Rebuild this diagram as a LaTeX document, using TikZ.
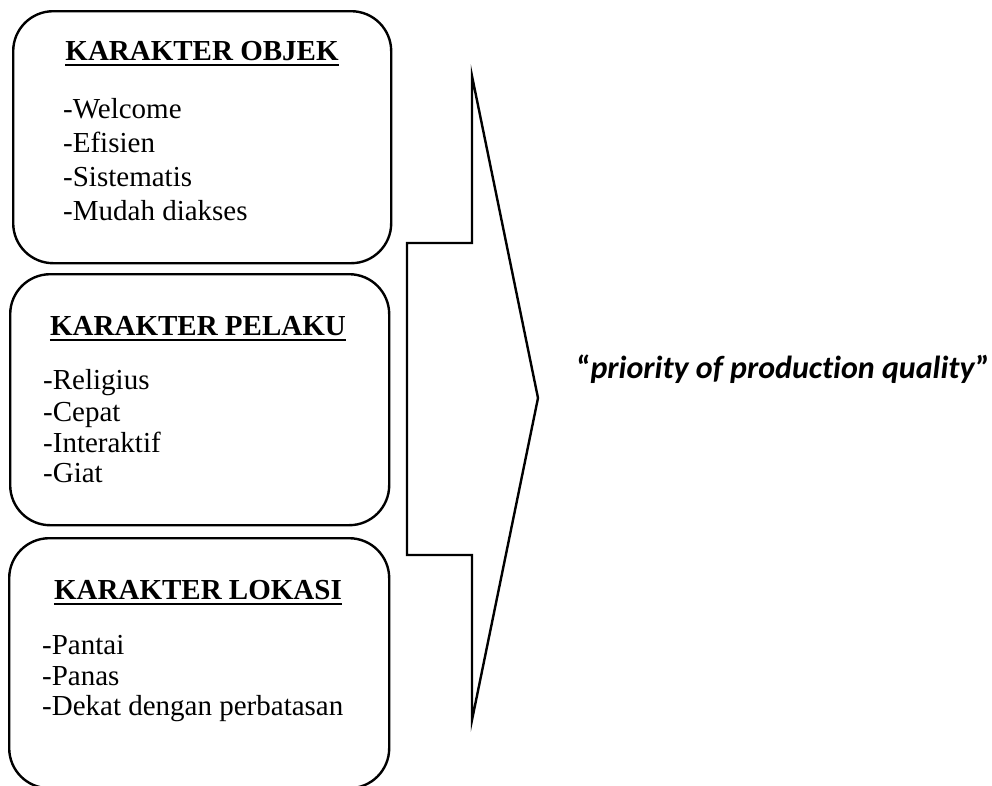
\documentclass[tikz,border=0pt]{standalone}
\usepackage{fontspec}
\setmainfont{Liberation Serif}[BoldFont={Liberation Serif Bold},ItalicFont={Liberation Serif Italic}]
\newfontfamily\calib{Carlito}[Ligatures=NoCommon,BoldItalicFont={Carlito Bold Italic},BoldFont={Carlito Bold}]
\begin{document}
\begin{tikzpicture}[x=1pt,y=-1pt,
  cbox/.style={draw,line width=2.4pt,rounded corners=40pt,anchor=north west,inner sep=0pt},
  head/.style={anchor=base,inner sep=0pt,font=\fontsize{29}{34}\selectfont\bfseries},
  item/.style={anchor=base west,inner sep=0pt,font=\fontsize{29}{34}\selectfont},
  uline/.style={line width=2pt}]
\useasboundingbox (0,0) rectangle (992,785);
% boxes
\node[cbox,minimum width=378pt,minimum height=252pt] (b1) at (12,10) {};
\node[cbox,minimum width=379pt,minimum height=251pt] (b2) at (9,273) {};
\node[cbox,minimum width=380pt,minimum height=250pt] (b3) at (8,537) {};
% headings
\node[head] (h1) at (202,60) {KARAKTER OBJEK};
\node[head] (h2) at (198,335) {KARAKTER PELAKU};
\node[head] (h3) at (198,599) {KARAKTER LOKASI};
\draw[uline] ([yshift=-5pt]h1.base west) -- ([yshift=-5pt]h1.base east);
\draw[uline] ([yshift=-5pt]h2.base west) -- ([yshift=-5pt]h2.base east);
\draw[uline] ([yshift=-5pt]h3.base west) -- ([yshift=-5pt]h3.base east);
% items box 1
\node[item] (o1) at (63,118) {-Welcome};
\node[item] (o2) at (63,152) {-Efisien};
\node[item] (o3) at (63,186) {-Sistematis};
\node[item] (o4) at (63,220) {-Mudah diakses};
% items box 2
\node[item] (p1) at (43,389) {-Religius};
\node[item] (p2) at (43,421) {-Cepat};
\node[item] (p3) at (43,452) {-Interaktif};
\node[item] (p4) at (43,482) {-Giat};
% items box 3
\node[item] (l1) at (42,654) {-Pantai};
\node[item] (l2) at (42,685) {-Panas};
\node[item] (l3) at (42,715) {-Dekat dengan perbatasan};
% big arrow
\draw[line width=2.4pt] (472,76) -- (538,398) -- (472,720) -- (472,555) -- (407,555)
  -- (407,243) -- (472,243) -- cycle;
% result text
\node[anchor=base,inner sep=0pt,font=\fontsize{32}{38}\selectfont\calib\bfseries] (res) at (783,378)
  {“\textit{priority of production quality}”};
\end{tikzpicture}
\end{document}
